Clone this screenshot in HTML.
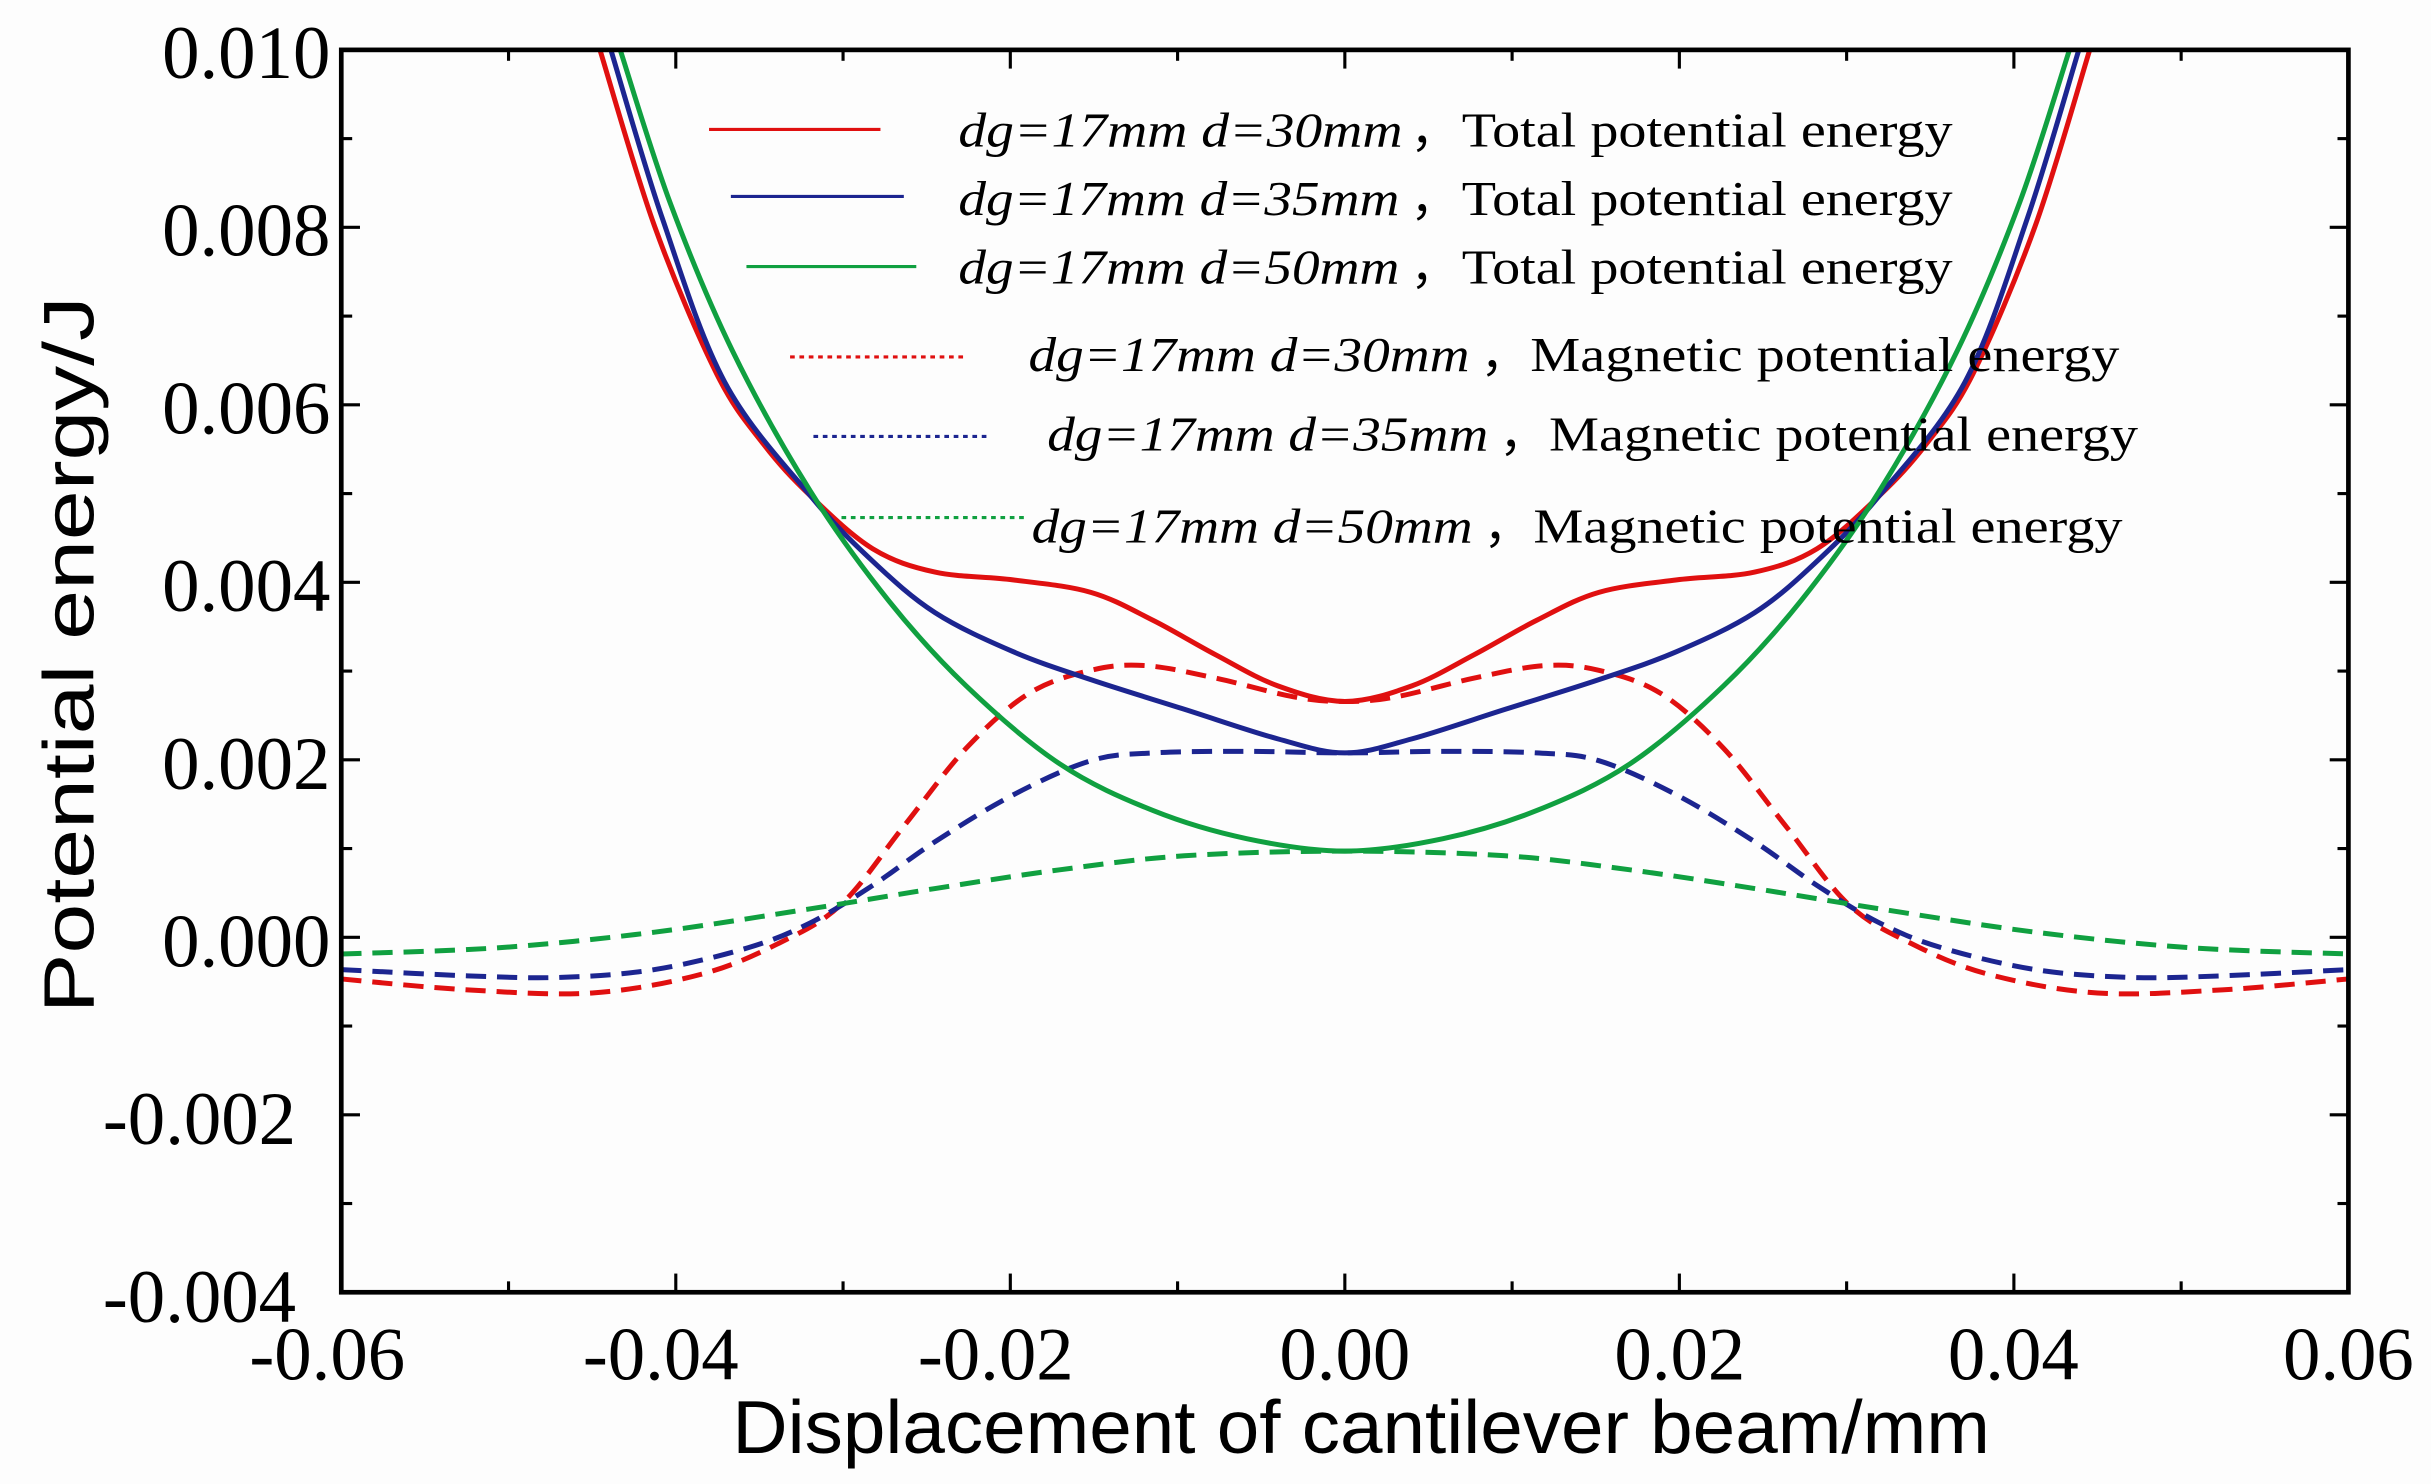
<!DOCTYPE html>
<html><head><meta charset="utf-8"><style>
html,body{margin:0;padding:0;background:#fdfdfd;}
svg{display:block;}
.t{font-family:"Liberation Serif",serif;}
.s{font-family:"Liberation Sans",sans-serif;}
</style></head><body>
<svg id="c" width="2431" height="1484" viewBox="0 0 1560 952" preserveAspectRatio="none" xmlns="http://www.w3.org/2000/svg">
<rect x="0" y="0" width="1560" height="952" fill="#fdfdfd"/>
<g id="ticks" stroke="#000" stroke-width="2"></g>
<g id="curves" fill="none" stroke-width="3.2"></g>
<rect x="219" y="32" width="1288" height="797" fill="none" stroke="#000" stroke-width="3"/>
<g class="t" font-size="48" text-anchor="end" fill="#000">
<text x="212" y="50">0.010</text><text x="212" y="164">0.008</text><text x="212" y="278">0.006</text>
<text x="212" y="392">0.004</text><text x="212" y="506">0.002</text><text x="212" y="620">0.000</text>
<text x="190" y="734">-0.002</text><text x="190" y="848">-0.004</text>
</g>
<g class="t" font-size="48" text-anchor="middle" fill="#000">
<text x="210" y="885">-0.06</text><text x="424" y="885">-0.04</text><text x="639" y="885">-0.02</text>
<text x="863" y="885">0.00</text><text x="1078" y="885">0.02</text><text x="1292" y="885">0.04</text><text x="1507" y="885">0.06</text>
</g>
<text class="s" x="470" y="932" font-size="48" textLength="807" lengthAdjust="spacingAndGlyphs">Displacement of cantilever beam/mm</text>
<text class="s" transform="translate(60,420) rotate(-90)" font-size="46" text-anchor="middle" textLength="460" lengthAdjust="spacingAndGlyphs">Potential energy/J</text>
<g font-size="31" class="t">
<line x1="455" y1="83" x2="565" y2="83" stroke="#e01010" stroke-width="2"/>
<text x="615" y="94"><tspan font-style="italic" textLength="285" lengthAdjust="spacingAndGlyphs">dg=17mm d=30mm</tspan><tspan x="905">，</tspan><tspan x="938" textLength="315" lengthAdjust="spacingAndGlyphs">Total potential energy</tspan></text>
<line x1="469" y1="126" x2="580" y2="126" stroke="#1c2590" stroke-width="2"/>
<text x="615" y="138"><tspan font-style="italic" textLength="283" lengthAdjust="spacingAndGlyphs">dg=17mm d=35mm</tspan><tspan x="905">，</tspan><tspan x="938" textLength="315" lengthAdjust="spacingAndGlyphs">Total potential energy</tspan></text>
<line x1="479" y1="171" x2="588" y2="171" stroke="#10a040" stroke-width="2"/>
<text x="615" y="182"><tspan font-style="italic" textLength="283" lengthAdjust="spacingAndGlyphs">dg=17mm d=50mm</tspan><tspan x="905">，</tspan><tspan x="938" textLength="315" lengthAdjust="spacingAndGlyphs">Total potential energy</tspan></text>
<line x1="507" y1="229" x2="620" y2="229" stroke="#e01010" stroke-width="2" stroke-dasharray="3,3"/>
<text x="660" y="238"><tspan font-style="italic" textLength="283" lengthAdjust="spacingAndGlyphs">dg=17mm d=30mm</tspan><tspan x="950">，</tspan><tspan x="982" textLength="378" lengthAdjust="spacingAndGlyphs">Magnetic potential energy</tspan></text>
<line x1="522" y1="280" x2="634" y2="280" stroke="#1c2590" stroke-width="2" stroke-dasharray="3,3"/>
<text x="672" y="289"><tspan font-style="italic" textLength="283" lengthAdjust="spacingAndGlyphs">dg=17mm d=35mm</tspan><tspan x="962">，</tspan><tspan x="994" textLength="378" lengthAdjust="spacingAndGlyphs">Magnetic potential energy</tspan></text>
<line x1="540" y1="332" x2="658" y2="332" stroke="#10a040" stroke-width="2" stroke-dasharray="3,3"/>
<text x="662" y="348"><tspan font-style="italic" textLength="283" lengthAdjust="spacingAndGlyphs">dg=17mm d=50mm</tspan><tspan x="952">，</tspan><tspan x="984" textLength="378" lengthAdjust="spacingAndGlyphs">Magnetic potential energy</tspan></text>
</g>
</svg>
<script>
(function(){
var NS="http://www.w3.org/2000/svg";
var tk=document.getElementById("ticks"),cv=document.getElementById("curves");
function ln(x1,y1,x2,y2){var l=document.createElementNS(NS,"line");l.setAttribute("x1",x1);l.setAttribute("y1",y1);l.setAttribute("x2",x2);l.setAttribute("y2",y2);tk.appendChild(l);}
for(var i=0;i<=12;i++){var x=219+i*1288/12,L=(i%2==0)?12:7;ln(x,829,x,829-L);ln(x,32,x,32+L);}
for(var j=0;j<=14;j++){var y=32+j*797/14,L=(j%2==0)?12:7;ln(219,y,219+L,y);ln(1507,y,1507-L,y);}
function mir(p){var r=p.slice();for(var i=p.length-2;i>=0;i--)r.push([1726-p[i][0],p[i][1]]);return r;}
function cr(p){var d="M"+p[0][0]+","+p[0][1];for(var i=0;i<p.length-1;i++){var p0=p[Math.max(i-1,0)],p1=p[i],p2=p[i+1],p3=p[Math.min(i+2,p.length-1)];
d+=" C"+(p1[0]+(p2[0]-p0[0])/6)+","+(p1[1]+(p2[1]-p0[1])/6)+" "+(p2[0]-(p3[0]-p1[0])/6)+","+(p2[1]-(p3[1]-p1[1])/6)+" "+p2[0]+","+p2[1];}return d;}
function add(p,col,dash){var e=document.createElementNS(NS,"path");e.setAttribute("d",cr(mir(p)));e.setAttribute("stroke",col);if(dash)e.setAttribute("stroke-dasharray","13,7");cv.appendChild(e);}
var R="#e01010",B="#1c2590",G="#10a040";
add([[219,628],[300,635],[380,637],[450,625],[500,605],[540,580],[580,530],[620,480],[660,445],[700,430],[735,427],[780,435],[830,447],[863,450]],R,1);
add([[219,622],[300,626],[360,627],[420,622],[480,608],[520,592],[560,568],[600,540],[650,510],[700,488],[740,483],[800,482],[863,483]],B,1);
add([[219,612],[320,608],[420,598],[520,583],[600,570],[680,558],[760,549],[863,546]],G,1);
add([[385,32],[420,145],[460,240],[490,285],[520,318],[560,352],[600,367],[650,372],[700,380],[740,398],[780,420],[820,440],[863,450]],R,0);
add([[392,32],[425,140],[465,245],[520,318],[560,360],[600,393],[650,418],[700,436],[760,455],[820,474],[863,483]],B,0);
add([[398,32],[430,130],[470,225],[520,315],[570,385],[620,440],[680,490],[740,520],[800,538],[863,546]],G,0);
})();
</script>
</body></html>
